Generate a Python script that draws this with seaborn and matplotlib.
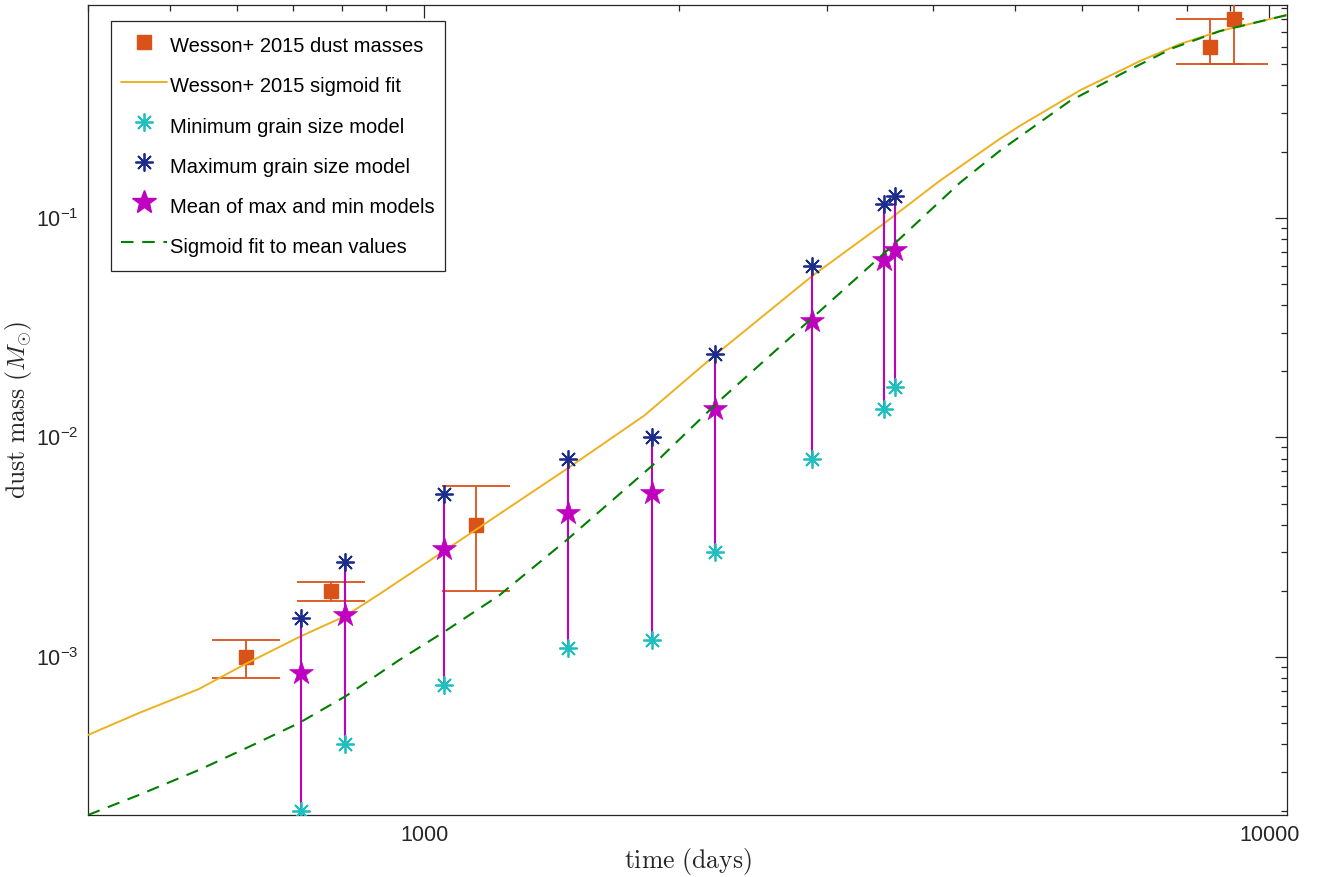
import numpy as np
import pandas as pd
import matplotlib
matplotlib.use("Agg")
import matplotlib.pyplot as plt
from matplotlib.lines import Line2D
from matplotlib.ticker import NullFormatter, LogLocator, FixedLocator
import seaborn as sns

# ---------------- data ----------------
wesson_days = [615, 775, 1153, 8515, 9090]
wesson_mass = [1.0e-3, 2.0e-3, 4.0e-3, 0.6, 0.8]
wesson_low = [0.8e-3, 1.8e-3, 2.0e-3, 0.5, 0.5]
wesson_high = [1.2e-3, 2.2e-3, 6.0e-3, 0.8, 1.1]

wesson_fit_days = [400, 460, 541, 614, 711, 806, 885, 1050, 1149, 1476, 1823,
                   2206, 2882, 3498, 4076, 4800, 5070, 5972, 7035, 7846,
                   8748, 10500]
wesson_fit_mass = [4.42e-4, 5.57e-4, 7.15e-4, 9.29e-4, 1.233e-3, 1.536e-3,
                   1.934e-3, 3.0e-3, 3.78e-3, 7.2e-3, 1.26e-2, 2.36e-2,
                   5.45e-2, 9.39e-2, 0.1473, 0.2286, 0.262, 0.380,
                   0.517, 0.618, 0.708, 0.837]

model_days = [714, 806, 1054, 1478, 1862, 2211, 2875, 3500, 3604]
min_mass = [2.0e-4, 4.0e-4, 7.5e-4, 1.1e-3, 1.2e-3, 3.0e-3, 8.0e-3, 1.35e-2, 1.7e-2]
max_mass = [1.5e-3, 2.7e-3, 5.5e-3, 8.0e-3, 1.0e-2, 2.4e-2, 6.0e-2, 0.115, 0.125]
mean_mass = [8.5e-4, 1.55e-3, 3.1e-3, 4.55e-3, 5.6e-3, 1.35e-2, 3.4e-2, 6.4e-2, 7.1e-2]

mean_fit_days = [400, 460, 541, 620, 711, 808, 934, 1050, 1227, 1473, 1863,
                 2236, 2882, 3498, 4305, 4800, 5811, 6789, 7697, 8748, 10500]
mean_fit_mass = [1.91e-4, 2.36e-4, 3.06e-4, 3.9e-4, 5.01e-4, 6.65e-4, 9.69e-4,
                 1.285e-3, 1.91e-3, 3.4e-3, 7.46e-3, 1.47e-2, 3.51e-2, 6.86e-2,
                 0.1442, 0.2016, 0.340, 0.4658, 0.5924, 0.708, 0.837]

legend_labels = ["Wesson+ 2015 dust masses", "Wesson+ 2015 sigmoid fit",
                 "Minimum grain size model", "Maximum grain size model",
                 "Mean of max and min models", "Sigmoid fit to mean values"]

# ---------------- style ----------------
sns.set_style("white")
plt.rcParams["font.family"] = ["Liberation Sans", "DejaVu Sans"]
plt.rcParams["mathtext.fontset"] = "custom"
plt.rcParams["mathtext.rm"] = "Liberation Sans"
plt.rcParams["mathtext.it"] = "Liberation Sans:italic"
plt.rcParams["mathtext.bf"] = "Liberation Sans:bold"

C_SQ = "#D95319"
C_OR = "#EDB120"
C_CY = "#20BFBF"
C_BL = "#1C2C8C"
C_MG = "#BF00BF"
C_GR = "#008000"
C_AX = "#262626"

DPI = 100
fig = plt.figure(figsize=(13.17, 8.77), dpi=DPI)
ax = fig.add_axes([88 / 1317, 1 - 815 / 877, 1199 / 1317, 810 / 877])
ax.set_xscale("log")
ax.set_yscale("log")

# error bars for Wesson points
ylow = np.array(wesson_mass) - np.array(wesson_low)
yhigh = np.array(wesson_high) - np.array(wesson_mass)
ax.errorbar(wesson_days, wesson_mass, yerr=[ylow, yhigh], fmt="s", color=C_SQ,
            ms=9.5, mec=C_SQ, mfc=C_SQ, elinewidth=1.3, capthick=1.3,
            capsize=34 * 72 / DPI, zorder=3)

# Wesson sigmoid fit
df_w = pd.DataFrame({"t": wesson_fit_days, "m": wesson_fit_mass})
sns.lineplot(data=df_w, x="t", y="m", ax=ax, color=C_OR, lw=1.4,
             estimator=None, sort=False, zorder=4)

# vertical lines between min and max
ax.vlines(model_days, min_mass, max_mass, colors=C_MG, lw=1.5, zorder=5)

ast = (8, 2, 0)
ax.plot(model_days, min_mass, ls="none", marker=ast, ms=13, mew=1.3,
        color=C_CY, zorder=6)
ax.plot(model_days, max_mass, ls="none", marker=ast, ms=13, mew=1.3,
        color=C_BL, zorder=6)
df_mean = pd.DataFrame({"t": model_days, "m": mean_mass})
sns.scatterplot(data=df_mean, x="t", y="m", ax=ax, marker="*", s=18 ** 2,
                color=C_MG, edgecolor=C_MG, linewidth=0.5, zorder=7)

# sigmoid fit to mean values
df_g = pd.DataFrame({"t": mean_fit_days, "m": mean_fit_mass})
sns.lineplot(data=df_g, x="t", y="m", ax=ax, color=C_GR, lw=1.5,
             estimator=None, sort=False, zorder=8, dashes=False)
ax.lines[-1].set_dashes((6, 4.2))

# axes limits and ticks
ax.set_xlim(400, 10500)
ax.set_ylim(1.91e-4, 0.93)

ax.xaxis.set_major_locator(FixedLocator([1000, 10000]))
ax.set_xticklabels(["1000", "10000"])
ax.xaxis.set_minor_locator(LogLocator(base=10, subs=np.arange(2, 10)))
ax.xaxis.set_minor_formatter(NullFormatter())
ax.yaxis.set_major_locator(FixedLocator([1e-3, 1e-2, 1e-1]))
ax.set_yticklabels([r"$10^{-3}$", r"$10^{-2}$", r"$10^{-1}$"])
ax.yaxis.set_minor_locator(LogLocator(base=10, subs=np.arange(2, 10)))
ax.yaxis.set_minor_formatter(NullFormatter())

ax.tick_params(which="both", direction="in", top=True, right=True,
               colors=C_AX, labelsize=15.5, width=0.9)
ax.tick_params(which="major", length=9, pad=7)
ax.tick_params(which="minor", length=4.5)
for sp in ax.spines.values():
    sp.set_color(C_AX)
    sp.set_linewidth(0.9)
    sp.set_visible(True)

ax.set_xlabel(r"$\mathrm{time\ (days)}$", math_fontfamily="cm", fontsize=18.5,
              color=C_AX, labelpad=0)
ax.set_ylabel(r"$\mathrm{dust\ mass\ (}M_{\odot}\mathrm{)}$", math_fontfamily="cm",
              fontsize=18.5, color=C_AX, labelpad=1)

# legend
handles = [
    Line2D([], [], ls="none", marker="s", ms=9.5, color=C_SQ),
    Line2D([], [], color=C_OR, lw=1.4),
    Line2D([], [], ls="none", marker=ast, ms=13, mew=1.3, color=C_CY),
    Line2D([], [], ls="none", marker=ast, ms=13, mew=1.3, color=C_BL),
    Line2D([], [], ls="none", marker="*", ms=18, color=C_MG),
    Line2D([], [], color=C_GR, lw=1.5, dashes=(6, 4.2)),
]
leg = ax.legend(handles, legend_labels, loc="upper left",
                bbox_to_anchor=((111 - 88) / 1199, (815 - 21) / 810),
                borderaxespad=0, fontsize=14.5, frameon=True, fancybox=False,
                framealpha=1, edgecolor=C_AX, handlelength=2.3,
                handleheight=1.9, handletextpad=0.15, labelspacing=0.51,
                borderpad=0.5)
leg.get_frame().set_linewidth(0.9)
for t in leg.get_texts():
    t.set_color("black")

fig.savefig("out.png", dpi=DPI)
